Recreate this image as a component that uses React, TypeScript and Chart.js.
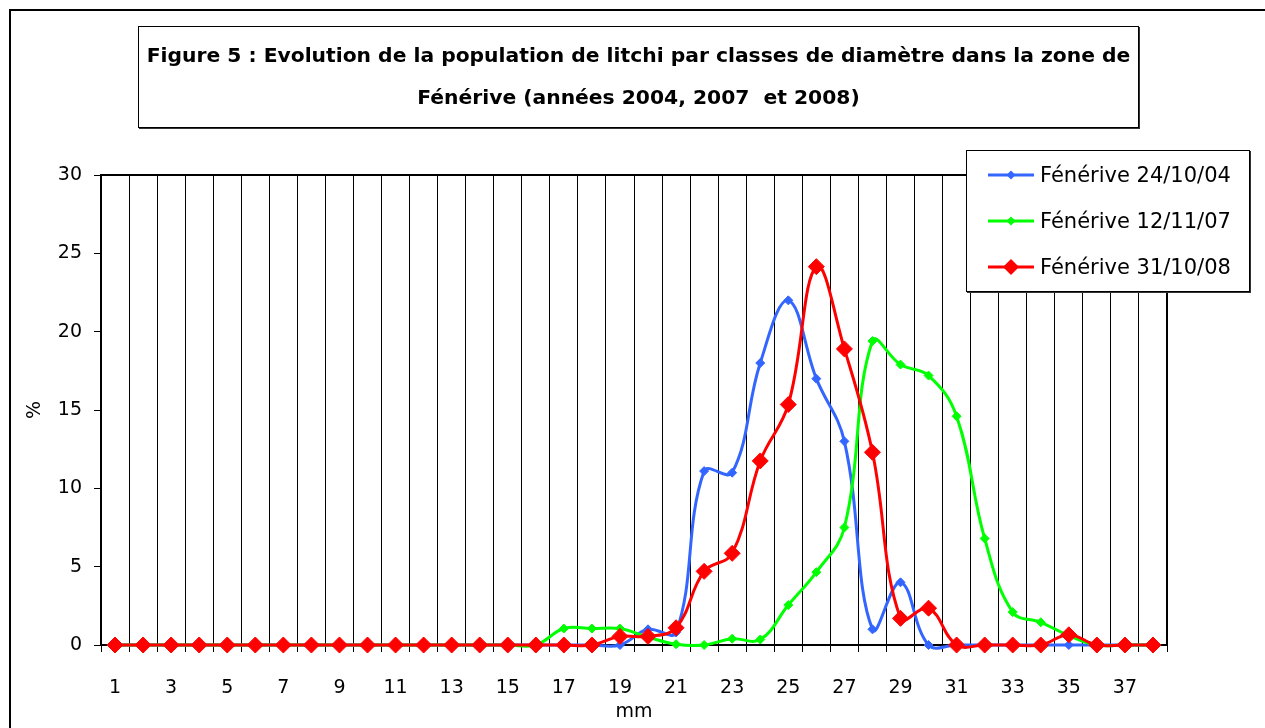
import React, { useEffect, useRef } from "react";
import { Chart, registerables } from "chart.js";

Chart.register(...registerables);

const categories = ["1","2","3","4","5","6","7","8","9","10","11","12","13","14","15","16","17","18","19","20","21","22","23","24","25","26","27","28","29","30","31","32","33","34","35","36","37","38"];

const fenerive2004 = [0,0,0,0,0,0,0,0,0,0,0,0,0,0,0,0,0,0,0,1.0,0.8,11.1,11.0,18.0,22.0,17.0,13.0,1.0,4.0,0,0,0,0,0,0,0,0,0];
const fenerive2007 = [0,0,0,0,0,0,0,0,0,0,0,0,0,0,0,0,1.05,1.05,1.05,0.5,0.05,0,0.4,0.35,2.55,4.65,7.5,19.4,17.9,17.2,14.6,6.8,2.1,1.45,0.6,0,0,0];
const fenerive2008 = [0,0,0,0,0,0,0,0,0,0,0,0,0,0,0,0,0,0,0.55,0.55,1.1,4.7,5.85,11.75,15.35,24.15,18.9,12.3,1.7,2.35,0,0,0,0,0.65,0,0,0];

const seriesNames = ["Fénérive 24/10/04", "Fénérive 12/11/07", "Fénérive 31/10/08"];
const seriesColors = ["#3366FF", "#00FF00", "#FF0000"];
const yTicks = [0, 5, 10, 15, 20, 25, 30];

const titleLines = [
  "Figure 5 : Evolution de la population de litchi par classes de diamètre dans la zone de",
  "Fénérive (années 2004, 2007  et 2008)",
];

const FONT = "'DejaVu Sans', sans-serif";

const plotBorder = {
  id: "plotBorder",
  beforeDatasetsDraw(chart: any) {
    const { ctx, chartArea } = chart;
    ctx.save();
    ctx.strokeStyle = "#000";
    ctx.lineWidth = 2;
    ctx.beginPath();
    ctx.moveTo(chartArea.left, chartArea.top);
    ctx.lineTo(chartArea.right, chartArea.top);
    ctx.lineTo(chartArea.right, chartArea.bottom);
    ctx.stroke();
    ctx.restore();
  },
};

function LegendIcon({ color, big }: { color: string; big: boolean }) {
  const r = big ? 8 : 4.5;
  return (
    <svg width="48" height="20" style={{ display: "block" }}>
      <line x1="1" y1="10" x2="47" y2="10" stroke={color} strokeWidth="3" />
      <polygon points={`${24},${10 - r} ${24 + r},10 ${24},${10 + r} ${24 - r},10`} fill={color} />
    </svg>
  );
}

export default function App() {
  const canvasRef = useRef<HTMLCanvasElement | null>(null);

  useEffect(() => {
    const canvas = canvasRef.current;
    if (!canvas) return;
    const data = [fenerive2004, fenerive2007, fenerive2008];
    const chart = new Chart(canvas, {
      type: "line",
      data: {
        labels: categories,
        datasets: data.map((d, i) => ({
          label: seriesNames[i],
          data: d,
          borderColor: seriesColors[i],
          backgroundColor: seriesColors[i],
          pointBackgroundColor: seriesColors[i],
          pointBorderColor: seriesColors[i],
          pointStyle: "rectRot",
          pointRadius: i === 2 ? 8 : 4.5,
          pointBorderWidth: 1,
          borderWidth: 3,
          tension: 0.4,
          capBezierPoints: false,
          clip: false as any,
          order: 3 - i,
          fill: false,
        })),
      },
      options: {
        responsive: false,
        animation: false,
        devicePixelRatio: 1,
        layout: { padding: { left: 20, right: 98, top: 175, bottom: 0 } },
        plugins: {
          legend: { display: false },
          tooltip: { enabled: false },
          title: { display: false },
        },
        scales: {
          x: {
            type: "category",
            offset: true,
            afterFit: (s: any) => { s.height = 83; },
            grid: {
              offset: true,
              color: "#000",
              lineWidth: 1,
              drawOnChartArea: true,
              drawTicks: true,
              tickLength: 7,
              tickColor: "#000",
            },
            border: { color: "#000", width: 2 },
            ticks: {
              autoSkip: false,
              maxRotation: 0,
              padding: 25,
              color: "#000",
              font: { family: FONT, size: 19 },
              callback: (_v: any, idx: number) => (idx % 2 === 0 ? categories[idx] : ""),
            },
            title: {
              display: true,
              text: "mm",
              color: "#000",
              font: { family: FONT, size: 19 },
              padding: { top: 0, bottom: 5 },
            },
          },
          y: {
            min: 0,
            max: 30,
            afterFit: (s: any) => { s.width = 81; },
            afterBuildTicks: (s: any) => { s.ticks = yTicks.map((v) => ({ value: v })); },
            grid: {
              drawOnChartArea: false,
              drawTicks: true,
              tickLength: 7,
              color: "#000",
            },
            border: { color: "#000", width: 2 },
            ticks: {
              padding: 12,
              color: "#000",
              font: { family: FONT, size: 19 },
            },
            title: {
              display: true,
              text: "%",
              color: "#000",
              font: { family: FONT, size: 19 },
              padding: { top: 4, bottom: 0 },
            },
          },
        },
      },
      plugins: [plotBorder],
    });
    return () => chart.destroy();
  }, []);

  return (
    <div style={{ position: "absolute", left: 0, top: 0, width: 1265, height: 728, overflow: "hidden", background: "#fff" }}>
      <div style={{ position: "absolute", left: 9, top: 9, width: 1400, height: 900, borderLeft: "2px solid #000", borderTop: "2px solid #000" }} />
      <canvas ref={canvasRef} width={1265} height={728} style={{ position: "absolute", left: 0, top: 0 }} />
      <div
        style={{
          position: "absolute", left: 138, top: 26, width: 1001, height: 102,
          border: "1px solid #000", boxShadow: "1px 1px 0 #333", background: "#fff",
          fontFamily: FONT, fontWeight: "bold", fontSize: 20.3, lineHeight: "42px",
          textAlign: "center", color: "#000", whiteSpace: "pre", paddingTop: 7, boxSizing: "border-box",
        }}
      >
        {titleLines.map((t, i) => (<div key={i}>{t}</div>))}
      </div>
      <div
        style={{
          position: "absolute", left: 966, top: 150, width: 284, height: 142,
          border: "1px solid #000", boxShadow: "1px 1px 0 #333", background: "#fff", boxSizing: "border-box",
          fontFamily: FONT, fontSize: 21, color: "#000",
        }}
      >
        {seriesNames.map((n, i) => (
          <div key={i} style={{ position: "absolute", left: 20, top: 12 + i * 46, height: 24, display: "flex", alignItems: "center" }}>
            <LegendIcon color={seriesColors[i]} big={i === 2} />
            <span style={{ marginLeft: 5, whiteSpace: "nowrap" }}>{n}</span>
          </div>
        ))}
      </div>
    </div>
  );
}
